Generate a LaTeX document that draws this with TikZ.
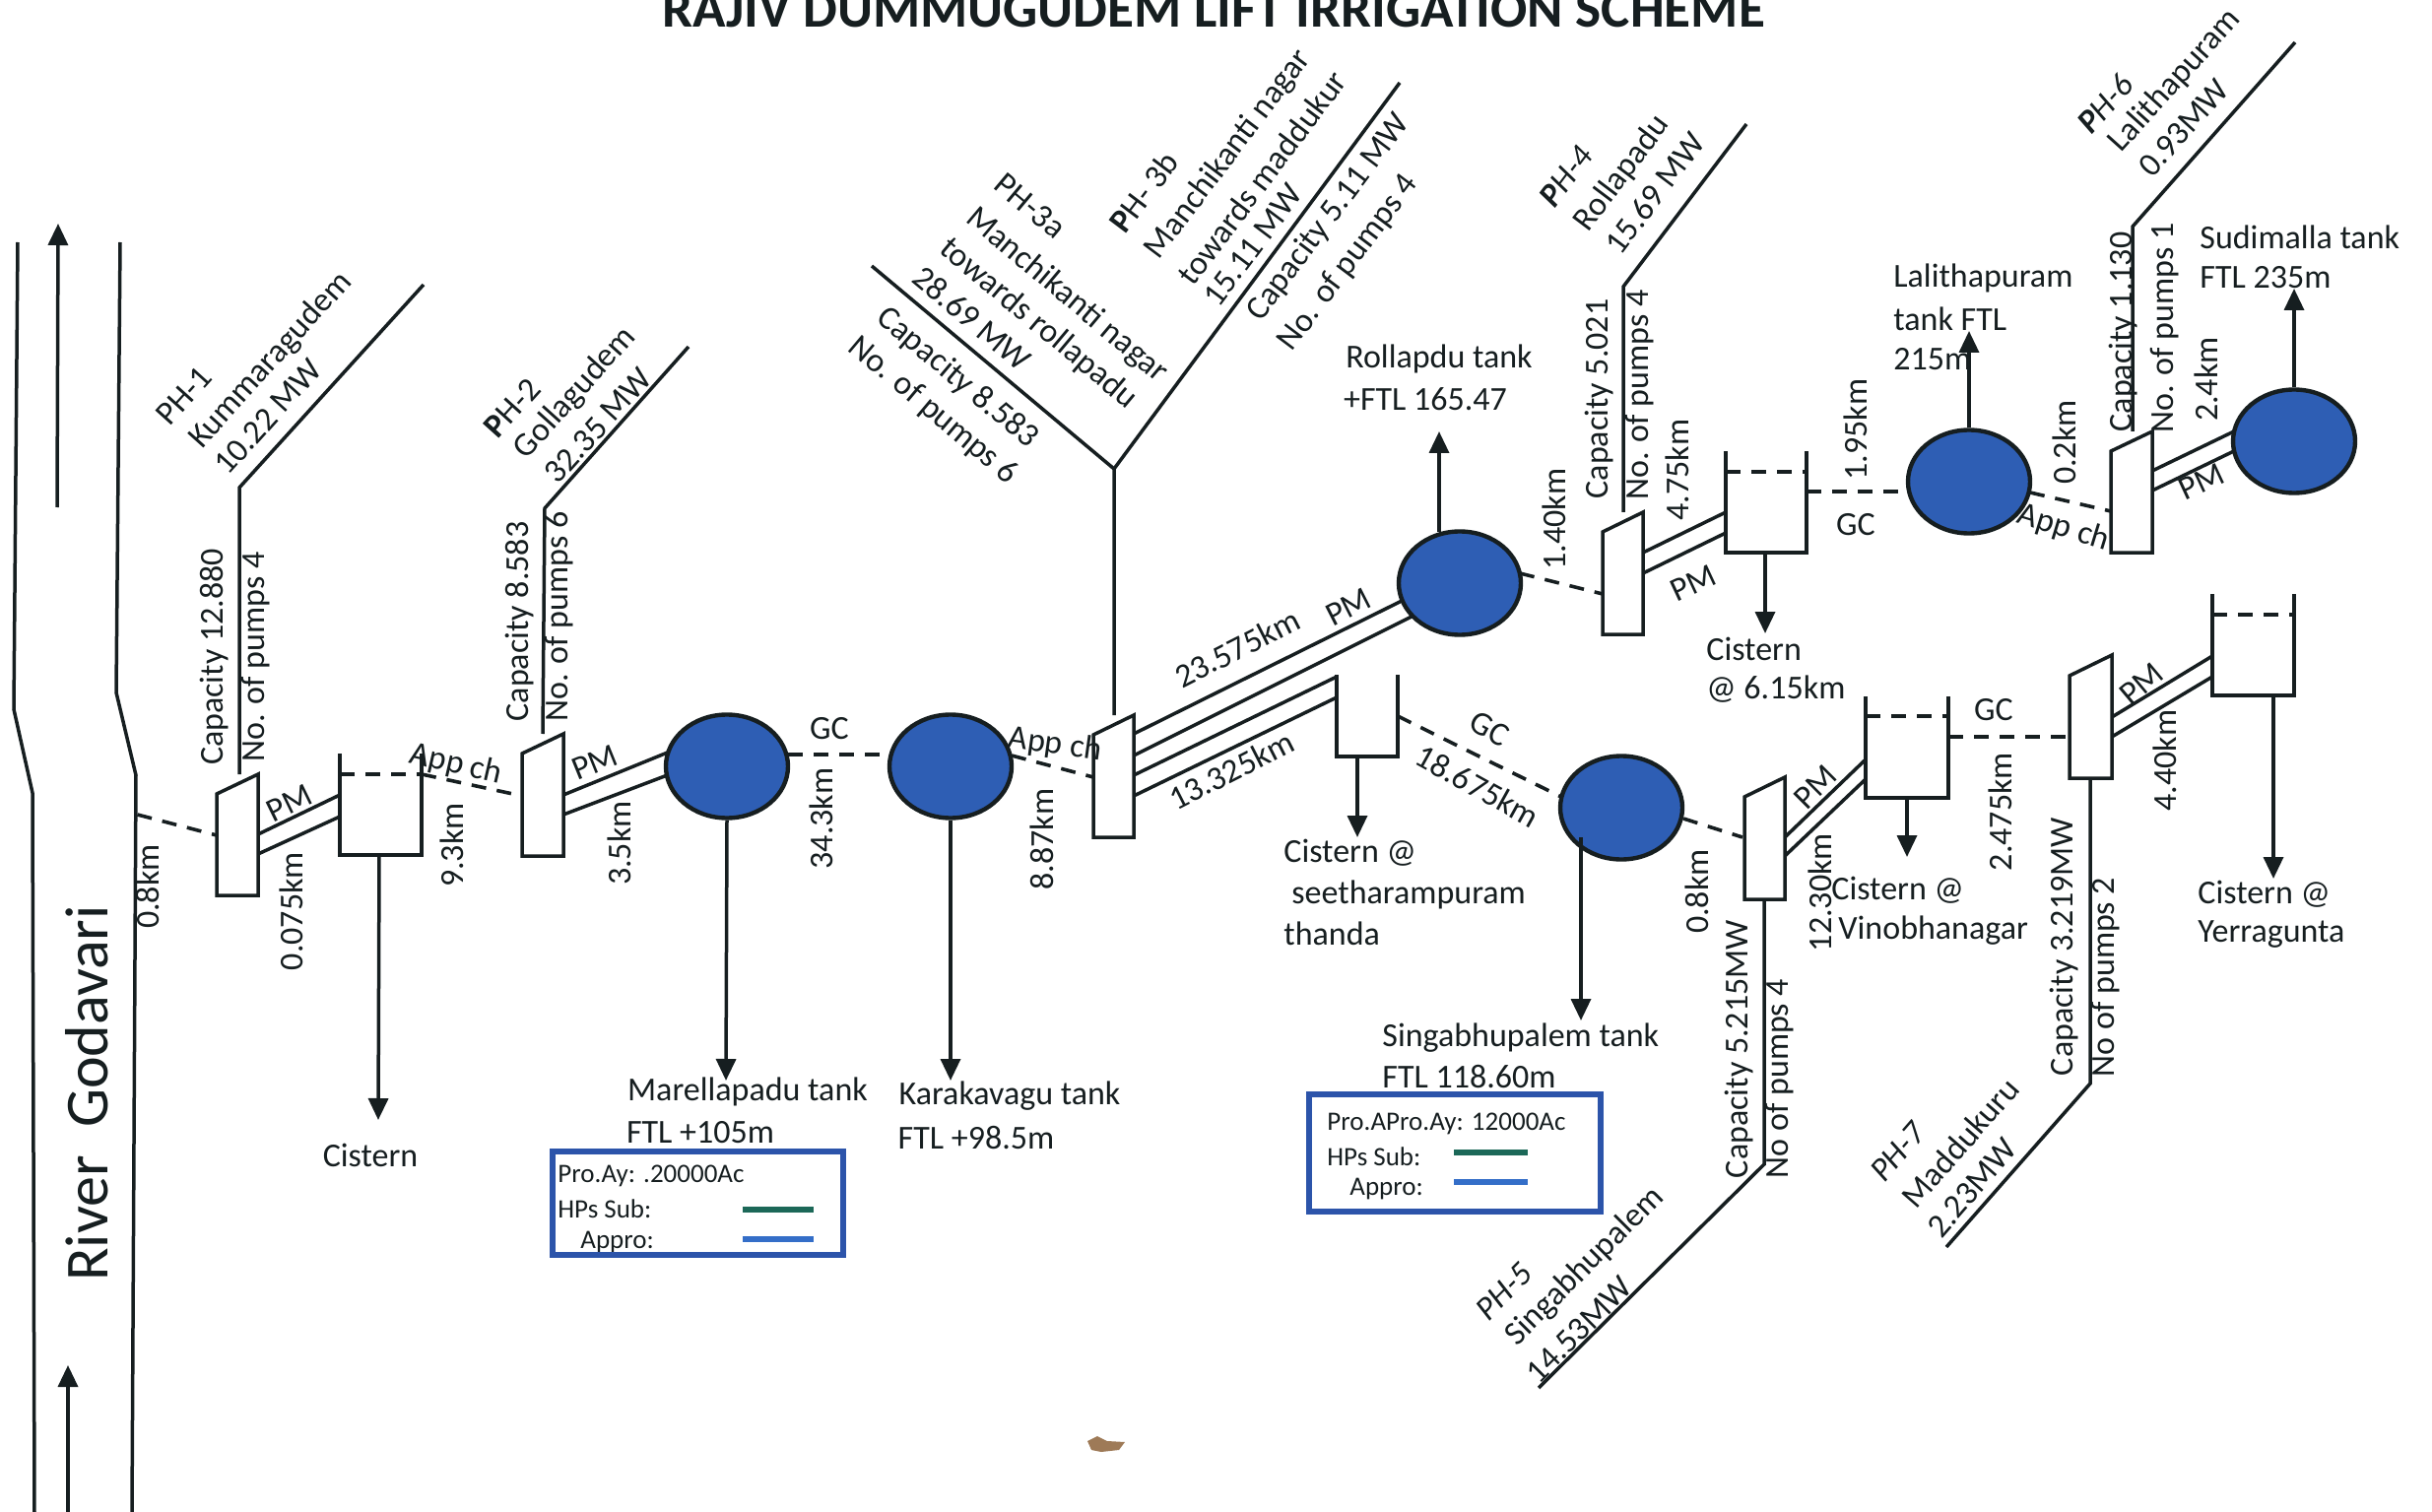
\documentclass[tikz,border=0pt]{standalone}
\usepackage{fontspec}
\setmainfont{Carlito}
\usetikzlibrary{arrows.meta,shapes.geometric}
\definecolor{ink}{RGB}{22,30,32}
\definecolor{tankblue}{RGB}{46,94,180}
\definecolor{boxblue}{RGB}{44,84,170}
\definecolor{subgreen}{RGB}{28,104,88}
\definecolor{approblue}{RGB}{52,110,200}
\tikzset{
  wire/.style={draw=ink,line width=1.75pt,line join=miter},
  dashwire/.style={draw=ink,line width=1.8pt,dash pattern=on 7.5pt off 5.5pt},
  flow/.style={draw=ink,line width=1.75pt,-{Triangle[length=11pt,width=10pt]}},
  tank/.style={shape=ellipse,draw=ink,line width=2.2pt,fill=tankblue,minimum width=62pt,minimum height=52.5pt,inner sep=0pt},
  lab/.style={font=\fontsize{17}{20}\selectfont,text=ink,inner sep=0pt},
  leg/.style={font=\fontsize{13.5}{16}\selectfont,text=ink,inner sep=0pt},
  legbox/.style={draw=boxblue,line width=2.7pt},
}
\newcommand\lb[4]{\node[lab,rotate=#1] (#2) at (#3) {#4};}
\newcommand\pumphouse[6]{%
  \coordinate (#1-tl) at (#2,#4); \coordinate (#1-tr) at (#3,#5);
  \coordinate (#1-br) at (#3,#6); \coordinate (#1-bl) at (#2,#6);
  \draw[wire,fill=white] (#1-tl)--(#1-tr)--(#1-br)--(#1-bl)--cycle;}
\newcommand\cistern[5]{%
  \coordinate (#1-tl) at (#2,#4); \coordinate (#1-tr) at (#3,#4);
  \coordinate (#1-bl) at (#2,#5); \coordinate (#1-br) at (#3,#5);
  \draw[wire] (#1-tl)--(#1-bl)--(#1-br)--(#1-tr);}
\newcommand\cisternlevel[6]{%
  \cistern{#1}{#2}{#3}{#4}{#5}
  \coordinate (#1-ll) at (#2,#6); \coordinate (#1-lr) at (#3,#6);
  \draw[dashwire] (#1-ll)--(#1-lr);}
\begin{document}
\begin{tikzpicture}[x=0.5pt,y=-0.5pt]
\useasboundingbox (0,0) rectangle (2469,1535);
\clip (0,0) rectangle (2469,1535);
% river
\draw[wire] (18,246)--(14,720)--(33,805)--(35,1535);
\draw[wire] (122,246)--(118,703)--(138,787)--(134,1535);
\coordinate (rivA1) at (58,515); \coordinate (rivA2) at (59,227);
\coordinate (rivB1) at (69,1535); \coordinate (rivB2) at (69,1386);
\draw[flow] (rivA1)--(rivA2);
\draw[flow] (rivB1)--(rivB2);
\node[lab,font=\fontsize{31}{35}\selectfont,rotate=90] (river) at (88,1110) {River~~Godavari};
\coordinate (intake) at (139.5,827);
% title
\node[lab,font=\bfseries\fontsize{27.6}{30}\selectfont,anchor=base] (title) at (1232,28) {RAJIV DUMMUGUDEM LIFT IRRIGATION SCHEME};

% pipes (drawn under the tanks and pump houses)
\coordinate (a1) at (262,847); \coordinate (a2) at (345,807);
\coordinate (b1) at (262,867); \coordinate (b2) at (345,829);
\coordinate (a3) at (572,807); \coordinate (a4) at (680,763);
\coordinate (b3) at (572,827); \coordinate (b4) at (680,786);
\coordinate (a5) at (1151,745); \coordinate (a6) at (1425,609);
\coordinate (b5) at (1151,767); \coordinate (b6) at (1437,624);
\coordinate (a7) at (1151,787); \coordinate (a8) at (1357,687);
\coordinate (b7) at (1151,808); \coordinate (b8) at (1357,708);
\coordinate (a9) at (1668,561); \coordinate (a10) at (1752,520);
\coordinate (b9) at (1668,582); \coordinate (b10) at (1752,541);
\coordinate (a11) at (1812,850); \coordinate (a12) at (1894,771);
\coordinate (b11) at (1812,869); \coordinate (b12) at (1894,791);
\coordinate (a13) at (2144,728); \coordinate (a14) at (2246,666);
\coordinate (b13) at (2144,748); \coordinate (b14) at (2246,687);
\coordinate (a15) at (2185,478); \coordinate (a16) at (2272,436);
\coordinate (b15) at (2185,498); \coordinate (b16) at (2272,456);
\foreach \i/\j in {1/2,3/4,5/6,7/8,9/10,11/12,13/14,15/16}{
  \draw[wire] (a\i)--(a\j);
  \draw[wire] (b\i)--(b\j);
}

% tanks
\node[tank] (c1) at (738,778) {};
\node[tank] (c2) at (965,778) {};
\node[tank] (c3) at (1482,592) {};
\node[tank] (c4) at (1646,820) {};
\node[tank] (c5) at (1999,489) {};
\node[tank] (c6) at (2329,448) {};

% pump houses and cisterns
\pumphouse{p1}{220}{262}{806}{786}{909}
\pumphouse{p2}{530}{572}{765}{745}{869}
\pumphouse{p3}{1110}{1151}{746}{726}{850}
\pumphouse{p4}{1627}{1668}{540}{520}{644}
\pumphouse{p5}{1771}{1812}{809}{789}{913}
\pumphouse{p7}{2101}{2144}{686}{665}{790}
\pumphouse{p6}{2143}{2185}{458}{438}{561}
\cisternlevel{s1}{345}{428}{765}{868}{786}
\cistern{s3}{1357}{1419}{685}{768}
\cisternlevel{s4}{1752}{1834}{458}{561}{479}
\cisternlevel{s5}{1894}{1978}{707}{810}{727}
\cisternlevel{s6}{2246}{2329}{603}{706}{624}

% gravity canals and approach channels
\coordinate (p1in) at (220,848);
\coordinate (p2in) at (530,808);
\coordinate (p3in) at (1110,789);
\coordinate (p4in) at (1627,603);
\coordinate (p5in) at (1769,850);
\coordinate (p7in) at (2101,748);
\coordinate (p6in) at (2143,519);
\coordinate (c1out) at (800,766); \coordinate (c2in) at (903,766);
\coordinate (c2out) at (1027,767);
\coordinate (c3out) at (1543,582);
\coordinate (s3out) at (1419,727); \coordinate (c4in) at (1585,809);
\coordinate (c4out) at (1709,831);
\coordinate (s4out) at (1834,499); \coordinate (c5in) at (1938,499);
\coordinate (c5out) at (2061,500);
\coordinate (s5out) at (1978,748);
\draw[dashwire] (intake)--(p1in);
\draw[dashwire] (s1-lr)--(p2in);
\draw[dashwire] (c1out)--(c2in);
\draw[dashwire] (c2out)--(p3in);
\draw[dashwire] (c3out)--(p4in);
\draw[dashwire] (s3out)--(c4in);
\draw[dashwire] (c4out)--(p5in);
\draw[dashwire] (s4out)--(c5in);
\draw[dashwire] (c5out)--(p6in);
\draw[dashwire] (s5out)--(p7in);

% delivery arrows
\coordinate (s1t) at (385,868); \coordinate (s1h) at (384,1137);
\coordinate (c1h) at (737,1097);
\coordinate (c2h) at (965,1097);
\coordinate (c3t) at (1461,540); \coordinate (c3h) at (1461,438);
\coordinate (s3t) at (1378,768); \coordinate (s3h) at (1378,850);
\coordinate (c4t) at (1605,850); \coordinate (c4h) at (1605,1036);
\coordinate (s4t) at (1792,561); \coordinate (s4h) at (1792,643);
\coordinate (s5t) at (1936,810); \coordinate (s5h) at (1936,870);
\coordinate (s6t) at (2308,706); \coordinate (s6h) at (2308,892);
\coordinate (c5h) at (1999,336);
\coordinate (c6h) at (2329,293);
\draw[flow] (s1t)--(s1h);
\draw[flow] (c1.south)--(c1h);
\draw[flow] (c2.south)--(c2h);
\draw[flow] (c3t)--(c3h);
\draw[flow] (s3t)--(s3h);
\draw[flow] (c4t)--(c4h);
\draw[flow] (s4t)--(s4h);
\draw[flow] (s5t)--(s5h);
\draw[flow] (s6t)--(s6h);
\draw[flow] (c5.north)--(c5h);
\draw[flow] (c6.north)--(c6h);

% rising mains to the pump-house name lines
\coordinate (m1a) at (243,786); \coordinate (m1b) at (243,495); \coordinate (m1c) at (430,289);
\coordinate (m2a) at (551,745); \coordinate (m2b) at (553,516); \coordinate (m2c) at (699,352);
\coordinate (m3a) at (1131,726); \coordinate (m3b) at (1131,476); \coordinate (m3c) at (885,270); \coordinate (m3d) at (1421,84);
\coordinate (m4a) at (1648,520); \coordinate (m4b) at (1648,291); \coordinate (m4c) at (1773,126);
\coordinate (m5a) at (1791,913); \coordinate (m5b) at (1791,1182); \coordinate (m5c) at (1562,1409);
\coordinate (m6a) at (2165,438); \coordinate (m6b) at (2165,230); \coordinate (m6c) at (2330,43);
\coordinate (m7a) at (2122,790); \coordinate (m7b) at (2122,1100); \coordinate (m7c) at (1976,1266);
\draw[wire] (m1a)--(m1b)--(m1c);
\draw[wire] (m2a)--(m2b)--(m2c);
\draw[wire] (m3a)--(m3b)--(m3c);
\draw[wire] (m3b)--(m3d);
\draw[wire] (m4a)--(m4b)--(m4c);
\draw[wire] (m5a)--(m5b)--(m5c);
\draw[wire] (m6a)--(m6b)--(m6c);
\draw[wire] (m7a)--(m7b)--(m7c);

% labels: PH-1, PH-2
\lb{48}{t1a}{187,402}{PH-1}
\lb{48}{t1b}{275,366}{Kummaragudem}
\lb{48}{t1c}{272,423}{10.22 MW}
\lb{90}{t1d}{218,667}{Capacity 12.880}
\lb{90}{t1e}{260,667}{No. of pumps 4}
\lb{26}{t1f}{294,815}{PM}
\lb{90}{t1g}{150,900}{0.8km}
\lb{90}{t1h}{296,925}{0.075km}
\lb{90}{t1i}{459,858}{9.3km}
\lb{-13}{t1j}{463,776}{App ch}
\lb{0}{t1k}{376,1173}{Cistern}
\lb{48}{t2a}{520,414}{\textbf{P}H-2}
\lb{48}{t2b}{584,399}{Gollagudem}
\lb{48}{t2c}{607,432}{32.35 MW}
\lb{90}{t2d}{528,631}{Capacity 8.583}
\lb{90}{t2e}{568,626}{No. of pumps 6}
\lb{22}{t2f}{604,774}{PM}
\lb{90}{t2g}{629,856}{3.5km}
\lb{0}{t2h}{842,740}{GC}
\lb{90}{t2i}{834,831}{34.3km}
\lb{0}{t2j}{759,1108}{Marellapadu tank}
\lb{0}{t2k}{711,1150}{FTL +105m}
\lb{0}{t2l}{1025,1113}{Karakavagu tank}
\lb{0}{t2m}{991,1155}{FTL +98.5m}
% PH-3
\lb{90}{t3a}{1058,852}{8.87km}
\lb{-8}{t3b}{1071,756}{App ch}
\lb{-40}{t3c}{1046,209}{PH-3a}
\lb{-40}{t3d}{1083,300}{Manchikanti nagar}
\lb{-40}{t3e}{1054,329}{towards rollapadu}
\lb{-40}{t3f}{987,323}{28.69 MW}
\lb{-40}{t3g}{972,384}{Capacity 8.583}
\lb{-40}{t3h}{947,417}{No. of pumps 6}
\lb{53}{t3i}{1161,195}{\textbf{P}H- 3b}
\lb{53}{t3j}{1247,157}{Manchikanti nagar}
\lb{53}{t3k}{1281,180}{towards maddukur}
\lb{53}{t3l}{1272,249}{15.11 MW}
\lb{53}{t3m}{1349,221}{Capacity 5.11 MW}
\lb{53}{t3n}{1369,267}{No. of pumps 4}
\lb{0}{t3o}{1461,364}{Rollapdu tank}
\lb{0}{t3p}{1447,405}{+FTL 165.47}
\lb{27}{t3q}{1256,658}{23.575km}
\lb{27}{t3r}{1369,616}{PM}
\lb{27}{t3s}{1250,782}{13.325km}
\lb{-29}{t3t}{1512,740}{GC}
\lb{-29}{t3u}{1500,798}{18.675km}
\node[lab,align=left,anchor=west] (t3v) at (1303,866) {Cistern @};
\node[lab,anchor=west] (t3w) at (1311,908) {seetharampuram};
\node[lab,anchor=west] (t3x) at (1303,948) {thanda};
% PH-4
\lb{90}{t4a}{1578,527}{1.40km}
\lb{90}{t4b}{1624,405}{Capacity 5.021}
\lb{90}{t4c}{1665,401}{No. of pumps 4}
\lb{90}{t4d}{1703,477}{4.75km}
\lb{53}{t4e}{1590,179}{\textit{\textbf{P}H-4}}
\lb{53}{t4f}{1647,176}{Rollapadu}
\lb{53}{t4g}{1680,196}{15.69 MW}
\lb{25}{t4h}{1719,592}{PM}
\node[lab,anchor=west] (t4i) at (1732,659) {Cistern};
\node[lab,anchor=west] (t4j) at (1732,700) {@ 6.15km};
\lb{90}{t4k}{1884,436}{1.95km}
\lb{0}{t4l}{1884,533}{GC}
\node[lab,anchor=west] (t4m) at (1922,282) {Lalithapuram};
\node[lab,anchor=west] (t4n) at (1922,324) {tank FTL};
\node[lab,anchor=west] (t4o) at (1922,365) {215m};
% PH-6
\lb{90}{t6a}{2096,449}{0.2km}
\lb{-17}{t6b}{2095,536}{App ch}
\lb{90}{t6c}{2156,337}{Capacity 1.130}
\lb{90}{t6d}{2198,333}{No. of pumps 1}
\lb{90}{t6e}{2240,385}{2.4km}
\lb{25}{t6f}{2235,489}{PM}
\lb{48}{t6g}{2137,105}{\textit{\textbf{P}H-6}}
\lb{48}{t6h}{2208,82}{Lalithapuram}
\lb{48}{t6i}{2217,130}{0.93MW}
\node[lab,anchor=west] (t6j) at (2233,241) {Sudimalla tank};
\node[lab,anchor=west] (t6k) at (2233,282) {FTL 235m};
% PH-5
\node[lab,anchor=west] (t5a) at (1403,1054) {Singabhupalem tank};
\node[lab,anchor=west] (t5b) at (1403,1093) {FTL 118.60m};
\lb{90}{t5c}{1723,905}{0.8km}
\lb{90}{t5d}{1766,1065}{Capacity 5.215MW}
\lb{90}{t5e}{1807,1095}{No of pumps 4}
\lb{45}{t5f}{1843,799}{PM}
\lb{90}{t5g}{1848,906}{12.30km}
\node[lab,anchor=west] (t5h) at (1859,904) {Cistern @};
\node[lab,anchor=west] (t5i) at (1866,945) {Vinobhanagar};
\lb{45}{t5j}{1527,1311}{\textit{PH-5}}
\lb{45}{t5k}{1609,1286}{Singabhupalem}
\lb{45}{t5l}{1603,1350}{14.53MW}
% PH-7
\lb{90}{t7a}{2031,824}{2.475km}
\lb{0}{t7b}{2024,721}{GC}
\lb{90}{t7c}{2096,961}{Capacity 3.219MW}
\lb{90}{t7d}{2138,992}{No of pumps 2}
\lb{40}{t7e}{2174,694}{PM}
\lb{90}{t7f}{2198,772}{4.40km}
\node[lab,anchor=west] (t7g) at (2231,908) {Cistern @};
\node[lab,anchor=west] (t7h) at (2231,949) {Yerragunta};
\lb{49}{t7i}{1927,1169}{\textit{PH-7}}
\lb{49}{t7j}{1990,1160}{Maddukuru}
\lb{49}{t7k}{2002,1206}{2.23MW}

% legend 1 (its last line is cut by the frame)
\begin{scope}
  \clip (561,1169) rectangle (856,1272);
  \node[leg,anchor=west] (l1a) at (566,1194) {Pro.Ay: .20000Ac};
  \node[leg,anchor=west] (l1b) at (566,1227) {HPs Sub:};
  \node[leg,anchor=west] (l1c) at (589,1261) {Appro:};
\end{scope}
\draw[legbox] (561,1169) rectangle (856,1274);
\coordinate (l1g1) at (754,1228); \coordinate (l1g2) at (826,1228);
\coordinate (l1h1) at (754,1258); \coordinate (l1h2) at (826,1258);
\draw[subgreen,line width=3pt] (l1g1)--(l1g2);
\draw[approblue,line width=3pt] (l1h1)--(l1h2);
% legend 2
\draw[legbox] (1329,1111) rectangle (1625,1230);
\node[leg,anchor=west] (l2a) at (1347,1141) {Pro.APro.Ay: 12000Ac};
\node[leg,anchor=west] (l2b) at (1347,1174) {HPs Sub:};
\node[leg,anchor=west] (l2c) at (1370,1207) {Appro:};
\coordinate (l2g1) at (1476,1170); \coordinate (l2g2) at (1551,1170);
\coordinate (l2h1) at (1476,1200); \coordinate (l2h2) at (1551,1200);
\draw[subgreen,line width=3pt] (l2g1)--(l2g2);
\draw[approblue,line width=3pt] (l2h1)--(l2h2);
% paper stain
\fill[brown!70!black!80] (1104,1463)--(1114,1458)--(1124,1463)--(1142,1464)--(1136,1472)--(1118,1474)--(1108,1472)--cycle;
\end{tikzpicture}
\end{document}
